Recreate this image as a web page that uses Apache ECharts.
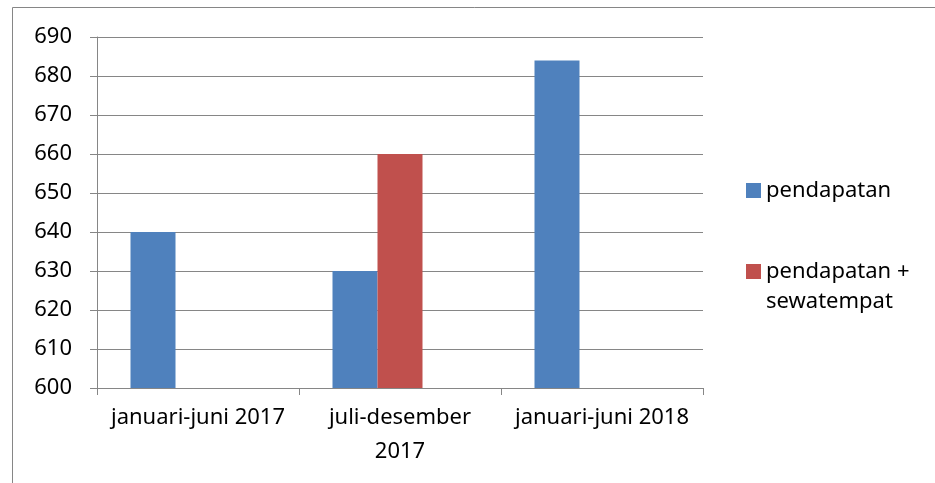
<!DOCTYPE html>
<html>
<head>
<meta charset="utf-8">
<script src="https://cdn.jsdelivr.net/npm/echarts@6/dist/echarts.min.js"></script>
<style>
html,body{margin:0;padding:0;background:#fff;}
#c{width:935px;height:483px;}
</style>
</head>
<body>
<div id="c"></div>
<script>
var categories = ['januari-juni 2017', 'juli-desember\n2017', 'januari-juni 2018'];
var pendapatan = [640, 630, 684];
var pendapatanSewatempat = [null, 660, null];
var emptySeries = [null, null, null];
var yMin = 600, yMax = 690, yStep = 10;

var FONT = 'Noto Sans';
var GRAY = '#868686';
var chart = echarts.init(document.getElementById('c'));
chart.setOption({
  animation: false,
  backgroundColor: '#fff',
  textStyle: { fontFamily: FONT },
  graphic: [{
    type: 'rect',
    shape: { x: 12.5, y: 7.5, width: 1000, height: 1000 },
    style: { fill: 'none', stroke: GRAY, lineWidth: 1 },
    silent: true
  }],
  grid: { left: 97, right: 232, top: 37, bottom: 95, containLabel: false },
  legend: [{
    data: ['pendapatan'],
    orient: 'vertical',
    left: 746, top: 175.5,
    padding: 0,
    itemWidth: 15, itemHeight: 15,
    icon: 'rect',
    textStyle: { fontFamily: FONT, fontSize: 22, color: '#000', lineHeight: 30 }
  }, {
    data: ['pendapatan + sewatempat'],
    orient: 'vertical',
    left: 746, top: 226.5,
    padding: 0,
    itemWidth: 15, itemHeight: 15,
    icon: 'rect',
    formatter: function () { return '\npendapatan +\nsewatempat'; },
    textStyle: { fontFamily: FONT, fontSize: 22, color: '#000', lineHeight: 30 }
  }],
  xAxis: {
    type: 'category',
    data: categories,
    axisLine: { show: true, lineStyle: { color: GRAY, width: 1 } },
    axisTick: { show: true, length: 7, alignWithLabel: false, interval: 0, lineStyle: { color: GRAY } },
    axisLabel: { interval: 0, fontFamily: FONT, fontSize: 22, color: '#000', lineHeight: 34, margin: 13 },
    splitLine: { show: false }
  },
  yAxis: {
    type: 'value',
    min: yMin, max: yMax, interval: yStep,
    axisLine: { show: true, lineStyle: { color: GRAY, width: 1 } },
    axisTick: { show: true, length: 7, inside: false, lineStyle: { color: GRAY } },
    axisLabel: { fontFamily: FONT, fontSize: 22, color: '#000', margin: 25 },
    splitLine: { show: true, lineStyle: { color: GRAY, width: 1 } }
  },
  series: [{
    name: 'pendapatan',
    type: 'bar',
    data: pendapatan,
    barWidth: 45,
    barGap: '0%',
    itemStyle: { color: '#4F81BD' }
  }, {
    name: 'pendapatan + sewatempat',
    type: 'bar',
    data: pendapatanSewatempat,
    barWidth: 45,
    barGap: '0%',
    itemStyle: { color: '#C0504D' }
  }, {
    name: ' ',
    type: 'bar',
    data: emptySeries,
    barWidth: 45,
    barGap: '0%',
    itemStyle: { color: '#9BBB59' }
  }]
});
</script>
</body>
</html>
